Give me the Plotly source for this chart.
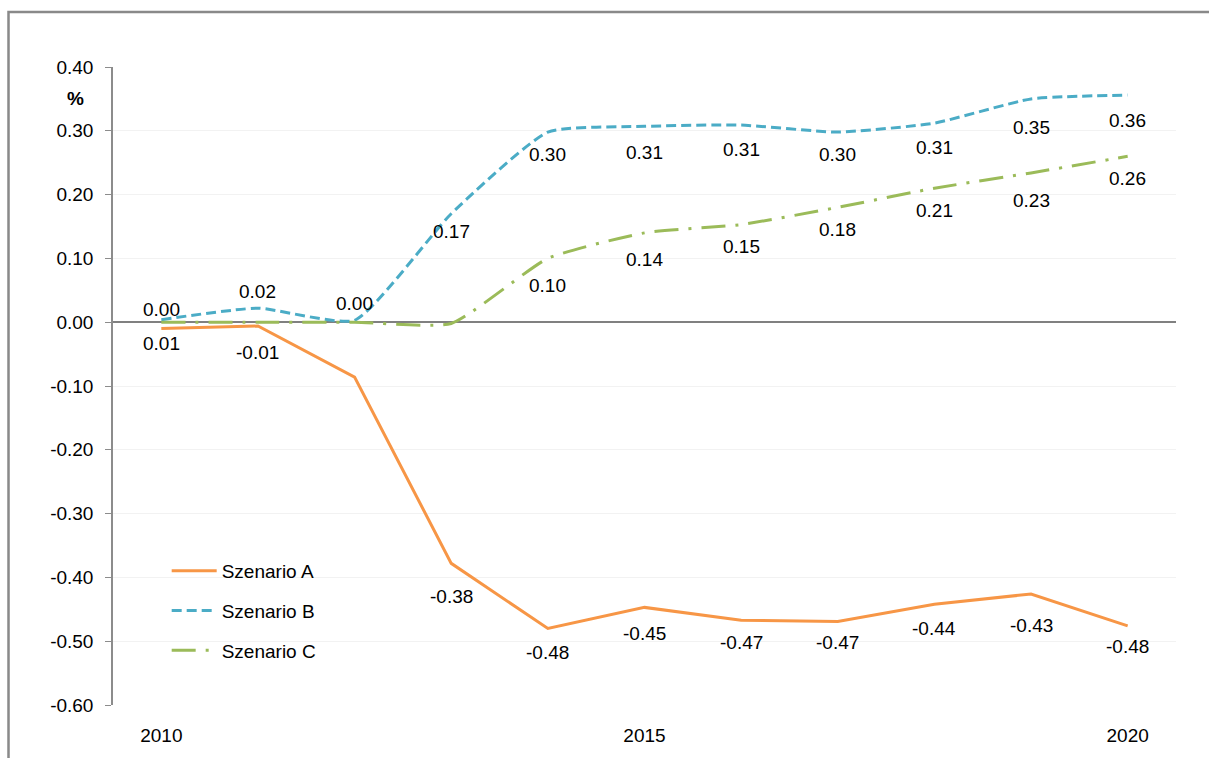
import plotly.graph_objects as go

# Years on the horizontal axis
years = [2010, 2011, 2012, 2013, 2014, 2015, 2016, 2017, 2018, 2019, 2020]

# Deviation in percent per scenario
szenario_a = [-0.010, -0.006, -0.086, -0.378, -0.480, -0.447, -0.467, -0.469, -0.442, -0.426, -0.476]
szenario_b = [0.004, 0.022, 0.003, 0.170, 0.298, 0.307, 0.309, 0.298, 0.312, 0.350, 0.356]
szenario_c = [0.000, 0.000, 0.000, -0.002, 0.100, 0.140, 0.153, 0.180, 0.210, 0.234, 0.260]

# Data labels as printed next to the points ("" = no label)
labels_a = ["0.01", "-0.01", "", "-0.38", "-0.48", "-0.45", "-0.47", "-0.47", "-0.44", "-0.43", "-0.48"]
labels_b = ["0.00", "0.02", "0.00", "0.17", "0.30", "0.31", "0.31", "0.30", "0.31", "0.35", "0.36"]
labels_c = ["", "", "", "", "0.10", "0.14", "0.15", "0.18", "0.21", "0.23", "0.26"]

x_ticks = [2010, 2015, 2020]
y_ticks = [0.4, 0.3, 0.2, 0.1, 0.0, -0.1, -0.2, -0.3, -0.4, -0.5, -0.6]
y_tick_text = ["0.40", "0.30", "0.20", "0.10", "0.00", "-0.10", "-0.20", "-0.30", "-0.40", "-0.50", "-0.60"]

# Vertical pixel offsets of the data labels relative to their points
dy_a = [-15, -26, 0, -33, -24, -26, -22, -21, -24, -32, -21]
dy_b = [10, 17, 17, -18, -22, -26, -24, -22, -24, -29, -25]
dy_c = [0, 0, 0, 0, -27, -27, -22, -22, -22, -28, -22]

FONT = "Liberation Sans, Arial, sans-serif"
FS = 19
ORANGE = "#F79646"
BLUE = "#4BACC6"
GREEN = "#9BBB59"

fig = go.Figure()

series = [
    ("Szenario A", szenario_a, ORANGE, "solid", "linear", 0, labels_a, dy_a),
    ("Szenario B", szenario_b, BLUE, "10px,5px", "spline", 0.5, labels_b, dy_b),
    ("Szenario C", szenario_c, GREEN, "24px,10px,3px,10px", "spline", 0.5, labels_c, dy_c),
]

annotations = []
for name, vals, color, dash, shape, smooth, labels, dys in series:
    line = dict(color=color, width=3, dash=dash, shape=shape)
    if shape == "spline":
        line["smoothing"] = smooth
    fig.add_trace(go.Scatter(
        x=years, y=vals, mode="lines", name=name, line=line,
        legendgroup=name, hoverinfo="skip",
    ))
    for x, y, t, dy in zip(years, vals, labels, dys):
        if t:
            annotations.append(dict(
                x=x, y=y, xref="x", yref="y", text=t, showarrow=False,
                yshift=dy, font=dict(family=FONT, size=FS, color="#000000"),
            ))

# Unit label above the value axis
annotations.append(dict(
    x=-0.0357, y=0.9514, xref="paper", yref="paper", text="<b>%</b>",
    xanchor="center", yanchor="middle", showarrow=False,
    font=dict(family=FONT, size=FS, color="#000000"),
))

W, H = 1209, 758
L, R, T, B = 113, 33, 67, 53

fig.update_layout(
    width=W, height=H, autosize=False,
    margin=dict(l=L, r=R, t=T, b=B),
    paper_bgcolor="white", plot_bgcolor="white",
    font=dict(family=FONT, size=FS, color="#000000"),
    showlegend=True,
    legend=dict(
        x=0.0505, y=0.240, xanchor="left", yanchor="top",
        bgcolor="rgba(0,0,0,0)", tracegroupgap=12, itemwidth=45,
        font=dict(family=FONT, size=FS, color="#000000"),
    ),
    annotations=annotations,
    shapes=[dict(
        type="rect", xref="paper", yref="paper",
        x0=-0.0983, x1=1.06, y0=-0.2, y1=1.0862,
        line=dict(color="#898989", width=2.5), fillcolor="rgba(0,0,0,0)",
        layer="above",
    )],
    xaxis=dict(
        range=[2009.5, 2020.5], tickvals=x_ticks, ticktext=[str(v) for v in x_ticks],
        showgrid=False, zeroline=False, showline=False, ticks="",
        ticklabelstandoff=17, tickfont=dict(family=FONT, size=FS),
    ),
    yaxis=dict(
        range=[-0.6, 0.4], tickvals=y_ticks, ticktext=y_tick_text,
        showgrid=True, gridcolor="#f2f2f2", gridwidth=1,
        zeroline=True, zerolinecolor="#808080", zerolinewidth=1.5,
        showline=True, linecolor="#8c8c8c", linewidth=1.5,
        ticks="outside", ticklen=6, tickcolor="#8c8c8c",
        ticklabelstandoff=8, tickfont=dict(family=FONT, size=FS),
    ),
)

fig.write_html("out.html")
